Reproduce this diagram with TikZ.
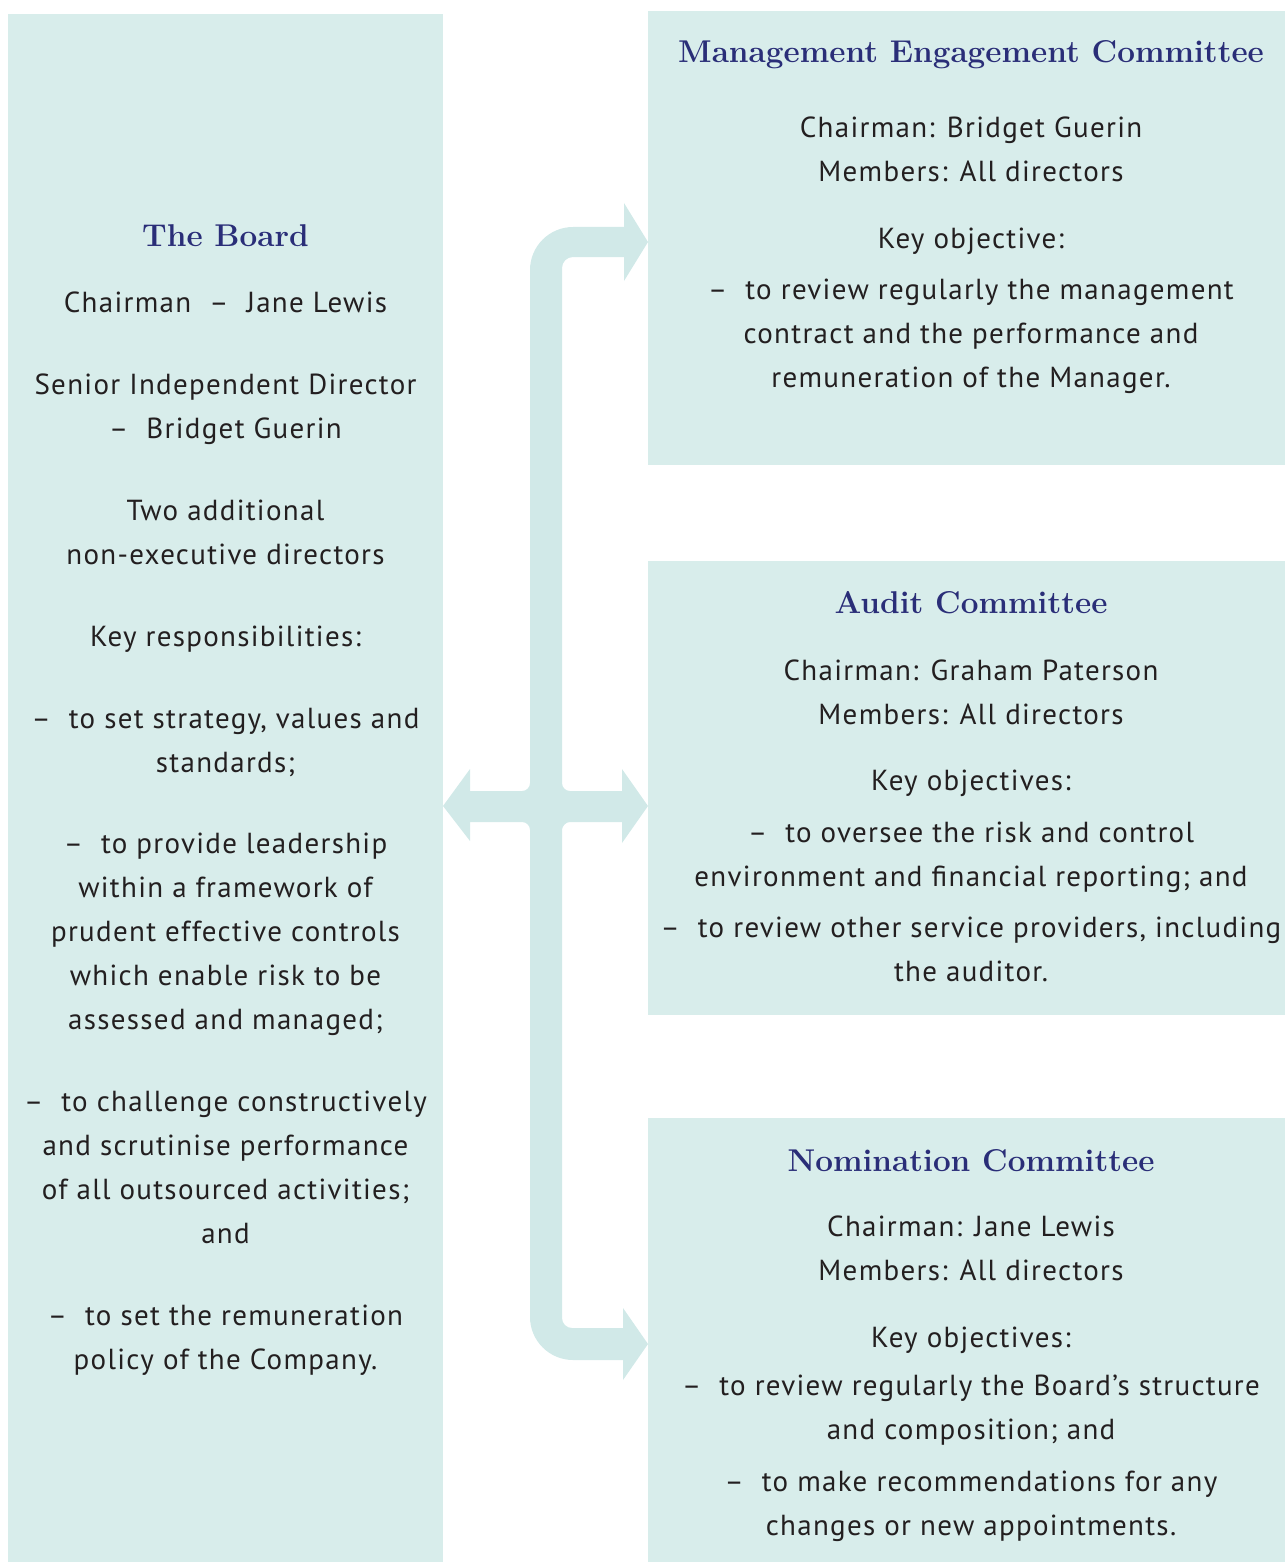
\documentclass[tikz,border=0pt]{standalone}
\usepackage{fontspec}
\newfontfamily\bodyfont{PT Sans}[LetterSpace=4.5]
\definecolor{boxfill}{HTML}{D8EDEB}
\definecolor{arrowfill}{HTML}{D1E9E8}
\definecolor{titlecol}{HTML}{2A2E78}
\definecolor{textcol}{HTML}{231F20}
\begin{document}
\begin{tikzpicture}[x=1pt,y=-1pt,
  panel/.style={fill=boxfill, draw=none, inner sep=0pt, outer sep=0pt},
  ttl/.style={anchor=base, inner sep=0pt, text=titlecol, font=\rmfamily\bfseries\fontsize{31.5}{38}\selectfont},
  txt/.style={anchor=north, inner sep=0pt, align=center, text=textcol, font=\bodyfont\fontsize{29}{44}\selectfont}]
\useasboundingbox (0,0) rectangle (1285,1562);
% panels
\node[panel, minimum width=435pt, minimum height=1548pt] (board) at (225.5,788) {};
\node[panel, minimum width=637pt, minimum height=454pt] (mec) at (966.5,238) {};
\node[panel, minimum width=637pt, minimum height=454pt] (audit) at (966.5,788) {};
\node[panel, minimum width=637pt, minimum height=444pt] (nom) at (966.5,1340) {};
% connector arrow
\fill[arrowfill] (624,203) -- (648,242) -- (624,281) -- (624,257) -- (573,257)
  .. controls (566.9,257) and (562,261.9) .. (562,268) -- (562,783)
  .. controls (562,787.4) and (565.6,791) .. (570,791) -- (622,791) -- (622,769)
  -- (648,806) -- (622,843) -- (622,822) -- (570,822)
  .. controls (565.6,822) and (562,826.4) .. (562,830) -- (562,1318)
  .. controls (562,1323.5) and (566.5,1328) .. (572,1328) -- (623,1328) -- (623,1308)
  -- (648,1344) -- (623,1380) -- (623,1360) -- (573,1360)
  .. controls (549.3,1360) and (530,1340.7) .. (530,1317) -- (530,830)
  .. controls (530,825.6) and (526.4,822) .. (522,822) -- (470,822) -- (470,841)
  -- (443,806) -- (470,769) -- (470,791) -- (522,791)
  .. controls (526.4,791) and (530,787.4) .. (530,783) -- (530,270)
  .. controls (530,246.3) and (549.3,227) .. (573,227) -- (624,227) -- cycle;
% board text
\node[ttl] (bt) at (225.5,247) {The Board};
\node[txt] (b1) at (225.5,281.2) {\strut Chairman\ \ –\ \ Jane Lewis};
\node[txt] (b2) at (225.5,363.2) {\strut Senior Independent Director\\–\ \ Bridget Guerin};
\node[txt] (b3) at (225.5,489.2) {\strut Two additional\\non-executive directors};
\node[txt] (b4) at (225.5,615.2) {\strut Key responsibilities:};
\node[txt] (b5) at (225.5,697.2) {\strut –\ \ to set strategy, values and\\standards;};
\node[txt] (b6) at (225.5,822.2) {\strut –\ \ to provide leadership\\within a framework of\\prudent effective controls\\which enable risk to be\\assessed and managed;};
\node[txt] (b7) at (225.5,1080.2) {\strut –\ \ to challenge constructively\\and scrutinise performance\\of all outsourced activities;\\and};
\node[txt] (b8) at (225.5,1294.2) {\strut –\ \ to set the remuneration\\policy of the Company.};
% MEC text
\node[ttl] (mt) at (971,63) {Management Engagement Committee};
\node[txt] (m1) at (971,106.2) {\strut Chairman: Bridget Guerin\\Members: All directors};
\node[txt] (m2) at (971,217.2) {\strut Key objective:};
\node[txt] (m3) at (971,268.2) {\strut –\ \ to review regularly the management\\contract and the performance and\\remuneration of the Manager.};
% Audit text
\node[ttl] (at) at (971,613) {Audit Committee};
\node[txt] (a1) at (971,649.2) {\strut Chairman: Graham Paterson\\Members: All directors};
\node[txt] (a2) at (971,759.2) {\strut Key objectives:};
\node[txt] (a3) at (971,811.2) {\strut –\ \ to oversee the risk and control\\environment and financial reporting; and};
\node[txt] (a4) at (971,906.2) {\strut –\ \ to review other service providers, including\\the auditor.};
% Nomination text
\node[ttl] (nt) at (971,1171) {Nomination Committee};
\node[txt] (n1) at (971,1205.2) {\strut Chairman: Jane Lewis\\Members: All directors};
\node[txt] (n2) at (971,1316.2) {\strut Key objectives:};
\node[txt] (n3) at (971,1364.2) {\strut –\ \ to review regularly the Board’s structure\\and composition; and};
\node[txt] (n4) at (971,1460.2) {\strut –\ \ to make recommendations for any\\changes or new appointments.};
\end{tikzpicture}
\end{document}
